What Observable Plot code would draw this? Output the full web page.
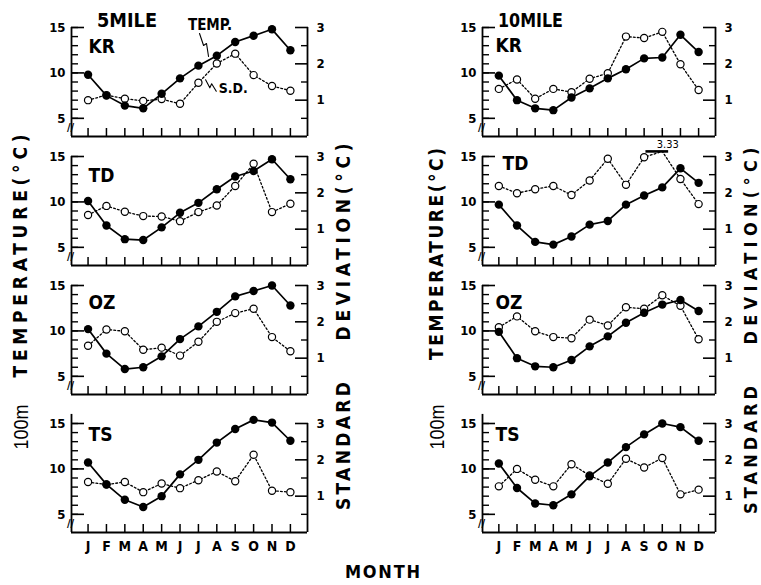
<!DOCTYPE html>
<html><head><meta charset="utf-8">
<script src="https://cdn.jsdelivr.net/npm/d3@7"></script>
<script src="https://cdn.jsdelivr.net/npm/@observablehq/plot@0.6"></script>
<style>
body{margin:0;background:#fff;}
#chart{position:relative;width:761px;height:585px;overflow:hidden;background:#fff;}
</style></head><body><div id="chart"></div>
<script>
// ---- data ----
const months = ["J","F","M","A","M","J","J","A","S","O","N","D"];
const stations = ["KR","TD","OZ","TS"];
const distances = ["5MILE","10MILE"];
// 100 m temperature (°C), 5 mile stations
const temp5KR = [9.8,7.5,6.4,6.1,7.7,9.4,10.8,11.9,13.4,14.1,14.8,12.5];
const temp5TD = [10.1,7.4,5.9,5.8,7.2,8.8,9.9,11.4,12.8,13.4,14.7,12.5];
const temp5OZ = [10.2,7.5,5.8,6.0,7.2,9.1,10.5,12.1,13.8,14.4,15.0,12.8];
const temp5TS = [10.7,8.3,6.6,5.8,7.0,9.4,11.0,12.9,14.4,15.4,15.1,13.1];
// standard deviation (°C), 5 mile stations
const sd5KR = [1.00,1.14,1.04,0.98,1.03,0.90,1.48,2.01,2.28,1.69,1.39,1.26];
const sd5TD = [1.39,1.64,1.48,1.36,1.35,1.22,1.47,1.65,2.19,2.80,1.47,1.70];
const sd5OZ = [1.34,1.79,1.74,1.23,1.29,1.07,1.45,2.00,2.24,2.36,1.58,1.19];
const sd5TS = [1.39,1.32,1.39,1.11,1.35,1.22,1.44,1.68,1.41,2.14,1.15,1.11];
// 100 m temperature (°C), 10 mile stations
const temp10KR = [9.7,7.0,6.1,5.9,7.3,8.3,9.4,10.4,11.6,11.7,14.2,12.3];
const temp10TD = [9.7,7.4,5.6,5.3,6.2,7.5,7.9,9.7,10.7,11.6,13.7,12.1];
const temp10OZ = [9.9,7.0,6.1,6.0,6.8,8.3,9.4,10.9,12.0,12.9,13.4,12.2];
const temp10TS = [10.6,7.9,6.2,6.0,7.2,9.2,10.7,12.4,13.8,15.0,14.6,13.1];
// standard deviation (°C), 10 mile stations
const sd10KR = [1.31,1.57,1.04,1.31,1.22,1.59,1.74,2.75,2.71,2.88,1.99,1.28];
const sd10TD = [2.19,1.99,2.10,2.19,1.94,2.34,2.94,2.22,2.98,3.33,2.38,1.69];
const sd10OZ = [1.85,2.15,1.74,1.58,1.55,2.06,1.90,2.40,2.36,2.73,2.44,1.52];
const sd10TS = [1.27,1.75,1.45,1.27,1.88,1.57,1.34,2.03,1.79,2.05,1.05,1.18];
// axis ticks
const tempTicksMajor = [5,10,15];
const tempTicksMinor = [5,6,7,8,9,10,11,12,13,14,15];
const sdTicksMajor = [1,2,3];
const sdTicksMinor = [0.5,1.5,2.5];
// annotation leaders (panel 5MILE KR), in month / °C units
const tempLeaderX = [7.06,7.28,7.44,7.55];
const tempLeaderY = [14.34,13.02,13.24,11.81];
const sdLeaderX = [7.39,7.62,7.72,7.97];
const sdLeaderY = [9.24,8.36,8.8,7.99];

// ---- layout / style ----
const FONT = "'Liberation Sans Narrow','Arial Narrow','DejaVu Sans Condensed','Roboto Condensed','Liberation Sans',sans-serif";
const xDomain = [0.1, 12.93];
const tDomain = [3, 15];
const sdToT = s => 3 + 4 * s;      // SD 0..3 sits on temperature 3..15
const SD_CAP = 3.14;                // off-scale values are broken at this level
const frameH = 109;
const rowTops = [27, 156, 285, 423];
const axisTops = [15, 15, 15, 16];
const cols = [
  {left: 71, width: 236, temps: [temp5KR, temp5TD, temp5OZ, temp5TS], sds: [sd5KR, sd5TD, sd5OZ, sd5TS],
   dx: [17,17,17,17], dy: [12,12,10,4]},
  {left: 482, width: 233, temps: [temp10KR, temp10TD, temp10OZ, temp10TS], sds: [sd10KR, sd10TD, sd10OZ, sd10TS],
   dx: [13,20,13,13], dy: [11,0,10,4]}
];

const chart = document.getElementById("chart");

function panel(c, r) {
  const col = cols[c];
  const temp = col.temps[r], sd = col.sds[r];
  const bottom = r === 3;
  const ml = 40, mr = 34, mt = 24, mb = bottom ? 34 : 10;
  const rows = months.map((m, i) => ({i: i + 1, t: temp[i], s: sd[i], st: sdToT(Math.min(sd[i], SD_CAP))}));
  const marks = [
    Plot.ruleY([3], {strokeWidth: 1.8}),
    Plot.ruleX([xDomain[0]], {y1: 3, y2: axisTops[r], strokeWidth: 1.8}),
    Plot.ruleX([xDomain[1]], {y1: 3, y2: 15, strokeWidth: 1.8}),
    Plot.axisY({anchor: "left", ticks: tempTicksMinor, tickSize: -7, tickFormat: () => "", strokeWidth: 1.4, label: null}),
    Plot.axisY({anchor: "left", ticks: tempTicksMajor, tickSize: -13, tickPadding: 19, strokeWidth: 1.6, label: null,
      fontSize: 13, fontWeight: "bold"}),
    Plot.axisY({anchor: "right", ticks: sdTicksMinor.map(sdToT), tickSize: -7, tickFormat: () => "", strokeWidth: 1.4, label: null}),
    Plot.axisY({anchor: "right", ticks: sdTicksMajor.map(sdToT), tickSize: -13, tickPadding: 22, strokeWidth: 1.6, label: null,
      tickFormat: t => String(Math.round((t - 3) / 4)), fontSize: 13, fontWeight: "bold"}),
    Plot.axisX({anchor: "bottom", ticks: d3.range(1, 13), tickSize: -8, tickPadding: 17, strokeWidth: 1.5, label: null,
      tickFormat: bottom ? (i => months[i - 1]) : (() => ""), fontSize: 14, fontWeight: "bold"}),
    Plot.text([{x: xDomain[0], y: 4.0}], {x: "x", y: "y", text: () => "//", fontSize: 11, fontWeight: "bold", dx: -1}),
    // SD series
    Plot.line(rows, {x: "i", y: "st", stroke: "black", strokeWidth: 1.3, strokeDasharray: "1.8,2.2"}),
    Plot.dot(rows.filter(d => d.s <= 3), {x: "i", y: d => sdToT(d.s), r: 3.6, fill: "white", stroke: "black", strokeWidth: 1.2}),
    // temperature series
    Plot.line(rows, {x: "i", y: "t", stroke: "black", strokeWidth: 1.7}),
    Plot.dot(rows, {x: "i", y: "t", r: 4.2, fill: "black"}),
    Plot.text([stations[r]], {frameAnchor: "top-left", dx: col.dx[r], dy: col.dy[r], textAnchor: "start", lineAnchor: "top",
      fontSize: 19, fontWeight: "bold"})
  ];
  if (c === 0 && r === 0) {
    marks.push(
      Plot.text([{x: 7.63, y: 15.28}], {x: "x", y: "y", text: () => "TEMP.", fontSize: 15, fontWeight: "bold"}),
      Plot.line(tempLeaderX.map((x, k) => ({x, y: tempLeaderY[k]})), {x: "x", y: "y", strokeWidth: 1.1}),
      Plot.text([{x: 8.1, y: 8.28}], {x: "x", y: "y", text: () => "S.D.", fontSize: 14, fontWeight: "bold", textAnchor: "start"}),
      Plot.line(sdLeaderX.map((x, k) => ({x, y: sdLeaderY[k]})), {x: "x", y: "y", strokeWidth: 1.1})
    );
  }
  const over = rows.filter(d => d.s > 3);
  if (over.length) {
    marks.push(
      Plot.ruleY(over, {y: () => sdToT(SD_CAP), x1: d => d.i - 0.9, x2: d => d.i + 0.35, strokeWidth: 2.6}),
      Plot.text(over, {x: d => d.i + 0.3, y: () => sdToT(SD_CAP), dy: -3, lineAnchor: "bottom", text: d => d.s.toFixed(2), fontSize: 11})
    );
  }
  const svg = Plot.plot({
    width: ml + col.width + mr, height: mt + frameH + mb,
    marginLeft: ml, marginRight: mr, marginTop: mt, marginBottom: mb,
    x: {type: "linear", domain: xDomain},
    y: {type: "linear", domain: tDomain},
    style: {background: "transparent", overflow: "visible", fontFamily: FONT, color: "black"},
    marks
  });
  svg.style.position = "absolute";
  svg.style.left = (col.left - ml) + "px";
  svg.style.top = (rowTops[r] - mt) + "px";
  chart.appendChild(svg);
}

// ---- titles (overlay) ----
const ov = d3.select(chart).append("svg").attr("width", 761).attr("height", 585)
  .style("position", "absolute").style("left", "0px").style("top", "0px")
  .style("font-family", FONT);
function label(str, x, y, {size = 18, weight = "bold", rotate = 0, len = null, adjust = "spacing", anchor = "middle", family = FONT} = {}) {
  const t = ov.append("text").attr("transform", `translate(${x},${y}) rotate(${rotate})`)
    .attr("text-anchor", anchor).attr("font-size", size).attr("font-weight", weight)
    .attr("font-family", family).attr("fill", "black").text(str);
  if (len) t.attr("textLength", len).attr("lengthAdjust", adjust);
  return t;
}
label(distances[0], 97, 27, {size: 19, anchor: "start", len: 60, adjust: "spacingAndGlyphs"});
label(distances[1], 498, 27, {size: 19, anchor: "start", len: 65, adjust: "spacingAndGlyphs"});
// left column axis titles
label("100m", 28, 427, {rotate: -90, size: 20, weight: "normal", len: 45, adjust: "spacingAndGlyphs", family: "'Liberation Sans',Arial,sans-serif"});
label("TEMPERATURE(°C)", 27, 256, {rotate: -90, size: 19, len: 243});
label("STANDARD", 350, 446, {rotate: -90, size: 19, len: 128});
label("DEVIATION(°C)", 350, 242, {rotate: -90, size: 19, len: 197});
// right column axis titles
label("100m", 444, 427, {rotate: -90, size: 20, weight: "normal", len: 45, adjust: "spacingAndGlyphs", family: "'Liberation Sans',Arial,sans-serif"});
label("TEMPERATURE(°C)", 443, 254, {rotate: -90, size: 19, len: 212});
label("STANDARD", 757, 450, {rotate: -90, size: 18, len: 128});
label("DEVIATION(°C)", 757, 246, {rotate: -90, size: 18, len: 197});
label("MONTH", 345, 578, {size: 18, anchor: "start", len: 75});

for (let c = 0; c < 2; c++) for (let r = 0; r < 4; r++) panel(c, r);
</script></body></html>
